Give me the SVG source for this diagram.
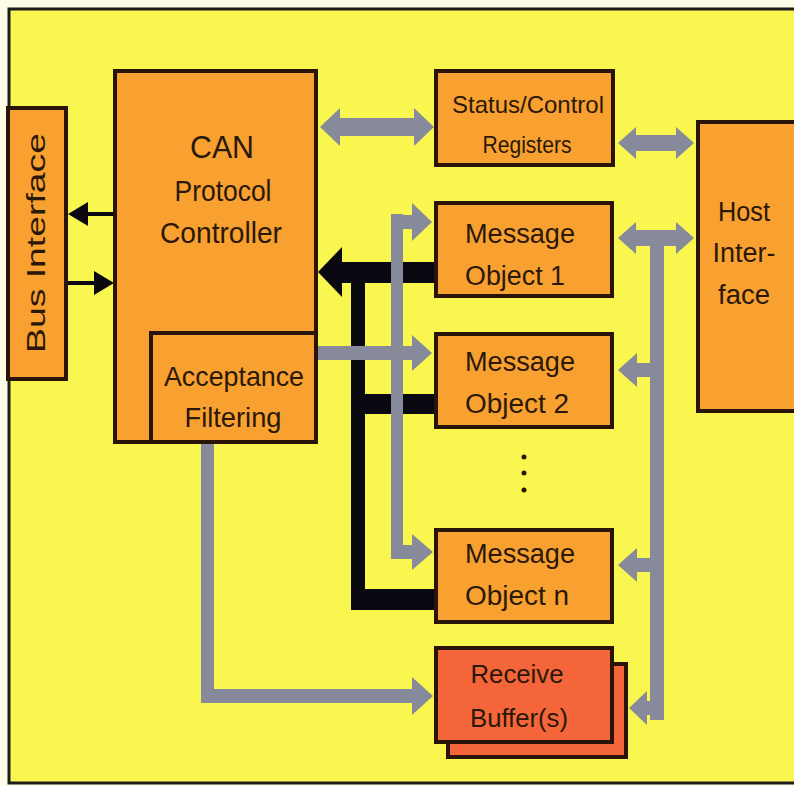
<svg xmlns="http://www.w3.org/2000/svg" width="794" height="786" viewBox="0 0 794 786">
<style>
.box{fill:#f8a030;stroke:#2a1408;stroke-width:4}
.rb{fill:#f4663a;stroke:#2a1408;stroke-width:4}
.t{font-family:"Liberation Sans",Arial,sans-serif;fill:#2a1808;text-anchor:middle}
.g{fill:#878a9a}
.k{fill:#0a0810}
</style>
<rect x="0" y="0" width="794" height="786" fill="#fffde6"/>
<rect x="9" y="9" width="800" height="774" fill="#f9f650" stroke="#1c1c1c" stroke-width="3"/>
<g id="connectors">
  <!-- bus interface arrows -->
  <rect class="k" x="84" y="212" width="30" height="4"/>
  <polygon class="k" points="68,214 88,202 88,226"/>
  <rect class="k" x="68" y="281" width="28" height="4"/>
  <polygon class="k" points="114,283 94,271 94,295"/>
  <!-- black bus -->
  <rect class="k" x="338" y="262" width="98" height="21"/>
  <polygon class="k" points="318,272 342,247 342,297"/>
  <rect class="k" x="351" y="262" width="14" height="348"/>
  <rect class="k" x="351" y="394" width="85" height="20"/>
  <rect class="k" x="351" y="589" width="85" height="21"/>
  <!-- grey CAN <-> Status -->
  <polygon class="g" points="320,127 340,108 340,118 414,118 414,108 434,127 414,146 414,136 340,136 340,146"/>
  <!-- grey Status <-> Host -->
  <polygon class="g" points="618,143 636,127 636,135 676,135 676,127 694,143 676,159 676,151 636,151 636,159"/>
  <!-- left grey bus -->
  <rect class="g" x="391" y="214" width="12" height="344"/>
  <rect class="g" x="391" y="215" width="24" height="14"/>
  <polygon class="g" points="412,203 432,222 412,241"/>
  <rect class="g" x="391" y="545" width="24" height="14"/>
  <polygon class="g" points="412,534 433,552 412,570"/>
  <!-- acceptance -> MO2 -->
  <rect class="g" x="316" y="346" width="98" height="14"/>
  <polygon class="g" points="412,335 432,353 412,371"/>
  <!-- acceptance -> receive buffer -->
  <rect class="g" x="201" y="443" width="13" height="260"/>
  <rect class="g" x="201" y="689" width="213" height="14"/>
  <polygon class="g" points="412,677 433,696 412,715"/>
  <!-- right grey bus -->
  <polygon class="g" points="618,238 636,222 636,230 676,230 676,222 694,238 676,254 676,246 636,246 636,254"/>
  <rect class="g" x="650" y="232" width="14" height="488"/>
  <rect class="g" x="634" y="363" width="30" height="14"/>
  <polygon class="g" points="618,370 637,353 637,387"/>
  <rect class="g" x="634" y="558" width="30" height="14"/>
  <polygon class="g" points="618,565 637,548 637,582"/>
  <rect class="g" x="644" y="701" width="20" height="14"/>
  <polygon class="g" points="629,708 647,691 647,725"/>
</g>
<g id="bus-interface">
  <rect class="box" x="8" y="108" width="58" height="271"/>
  <text class="t" font-size="26" transform="translate(45,243) rotate(-90)" textLength="220" lengthAdjust="spacingAndGlyphs">Bus Interface</text>
</g>
<g id="can-protocol-controller">
  <rect class="box" x="115" y="71" width="201" height="371"/>
  <text class="t" font-size="31" x="222" y="158" textLength="64" lengthAdjust="spacingAndGlyphs">CAN</text>
  <text class="t" font-size="29" x="223" y="201" textLength="97" lengthAdjust="spacingAndGlyphs">Protocol</text>
  <text class="t" font-size="29" x="221" y="243" textLength="122" lengthAdjust="spacingAndGlyphs">Controller</text>
</g>
<g id="acceptance-filtering">
  <rect class="box" x="151" y="333" width="165" height="109"/>
  <text class="t" font-size="28" x="234" y="386" textLength="140" lengthAdjust="spacingAndGlyphs">Acceptance</text>
  <text class="t" font-size="28" x="233" y="427" textLength="97" lengthAdjust="spacingAndGlyphs">Filtering</text>
</g>
<g id="status-control-registers">
  <rect class="box" x="436" y="71" width="177" height="94"/>
  <text class="t" font-size="24" x="528" y="113" textLength="152" lengthAdjust="spacingAndGlyphs">Status/Control</text>
  <text class="t" font-size="24" x="527" y="153" textLength="89" lengthAdjust="spacingAndGlyphs">Registers</text>
</g>
<g id="message-object-1">
  <rect class="box" x="436" y="203" width="176" height="93"/>
  <text class="t" font-size="27" x="520" y="243" textLength="110" lengthAdjust="spacingAndGlyphs">Message</text>
  <text class="t" font-size="27" x="515" y="285" textLength="100" lengthAdjust="spacingAndGlyphs">Object 1</text>
</g>
<g id="message-object-2">
  <rect class="box" x="436" y="334" width="176" height="93"/>
  <text class="t" font-size="27" x="520" y="371" textLength="110" lengthAdjust="spacingAndGlyphs">Message</text>
  <text class="t" font-size="27" x="517" y="413" textLength="104" lengthAdjust="spacingAndGlyphs">Object 2</text>
</g>
<g id="ellipsis">
  <circle cx="524" cy="457" r="2.5" fill="#2a1808"/>
  <circle cx="524" cy="473" r="2.5" fill="#2a1808"/>
  <circle cx="524" cy="490" r="2.5" fill="#2a1808"/>
</g>
<g id="message-object-n">
  <rect class="box" x="436" y="530" width="176" height="92"/>
  <text class="t" font-size="27" x="520" y="563" textLength="110" lengthAdjust="spacingAndGlyphs">Message</text>
  <text class="t" font-size="27" x="517" y="605" textLength="104" lengthAdjust="spacingAndGlyphs">Object n</text>
</g>
<g id="receive-buffers">
  <rect class="rb" x="448" y="664" width="178" height="93"/>
  <rect class="rb" x="436" y="648" width="176" height="94"/>
  <text class="t" font-size="26" x="517" y="683" textLength="93" lengthAdjust="spacingAndGlyphs">Receive</text>
  <text class="t" font-size="26" x="519" y="727" textLength="98" lengthAdjust="spacingAndGlyphs">Buffer(s)</text>
</g>
<g id="host-interface">
  <rect class="box" x="698" y="122" width="110" height="289"/>
  <text class="t" font-size="27" x="744" y="221" textLength="52" lengthAdjust="spacingAndGlyphs">Host</text>
  <text class="t" font-size="27" x="744" y="262" textLength="63" lengthAdjust="spacingAndGlyphs">Inter-</text>
  <text class="t" font-size="27" x="744" y="304" textLength="52" lengthAdjust="spacingAndGlyphs">face</text>
</g>
</svg>
